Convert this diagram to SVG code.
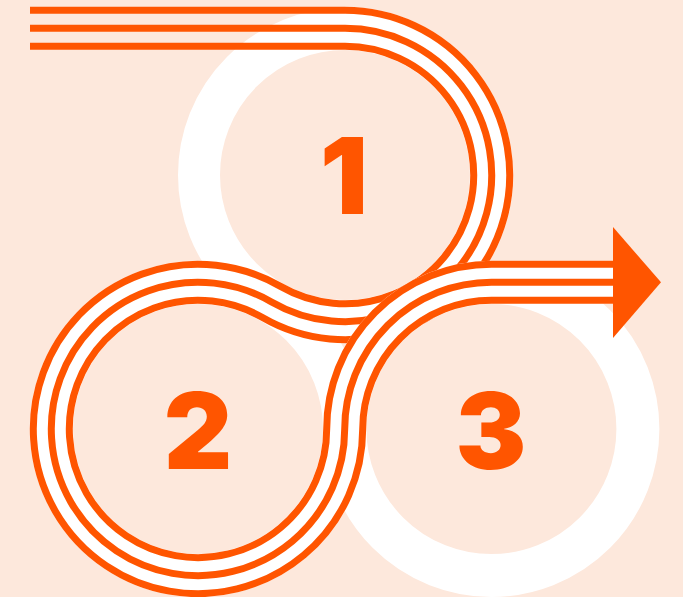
<svg xmlns="http://www.w3.org/2000/svg" width="683" height="597" viewBox="0 0 683 597">
  <style>
    .ring { fill: none; stroke: #FFFFFF; }
    .band { fill: none; stroke: #FFFFFF; stroke-width: 43; }
    .line { fill: none; stroke: #FF5500; stroke-width: 7; }
    .num { font-family: Inter, Roboto, "DejaVu Sans", sans-serif; font-weight: 900; font-size: 106px; fill: #FF5500; text-anchor: middle; }
  </style>
  <rect width="683" height="597" fill="#FDE8DC"/>
  <g id="node1">
    <circle class="ring" cx="345" cy="175" r="146" stroke-width="42"/>
    <text class="num" x="344" y="214">1</text>
  </g>
  <g id="node2">
    <circle class="ring" cx="198" cy="429" r="146" stroke-width="42"/>
    <text class="num" x="198" y="469">2</text>
  </g>
  <g id="node3">
    <circle class="ring" cx="491.4" cy="429" r="146.5" stroke-width="43"/>
    <text class="num" x="491" y="469">3</text>
  </g>
  <g id="connectors">
    <path class="band" d="M345 28.3 A146.7 146.7 0 1 1 271.52 301.97 A146.7 146.7 0 1 0 344.7 429"/>
    <path class="line" d="M30 10.3 H345 A164.7 164.7 0 1 1 262.5 317.55 A128.7 128.7 0 1 0 326.7 429"/>
    <path class="line" d="M30 28.3 H345 A146.7 146.7 0 1 1 271.52 301.97 A146.7 146.7 0 1 0 344.7 429"/>
    <path class="line" d="M30 46.3 H345 A128.7 128.7 0 1 1 280.53 286.39 A164.7 164.7 0 1 0 362.7 429"/>
    <path class="band" d="M344.7 429 A146.7 146.7 0 0 1 491.4 282.3 H613"/>
    <path class="line" d="M326.7 429 A164.7 164.7 0 0 1 491.4 264.3 H614"/>
    <path class="line" d="M344.7 429 A146.7 146.7 0 0 1 491.4 282.3 H614"/>
    <path class="line" d="M362.7 429 A128.7 128.7 0 0 1 491.4 300.3 H614"/>
    <polygon points="613,227 661,282.3 613,338" fill="#FF5500"/>
  </g>
</svg>
